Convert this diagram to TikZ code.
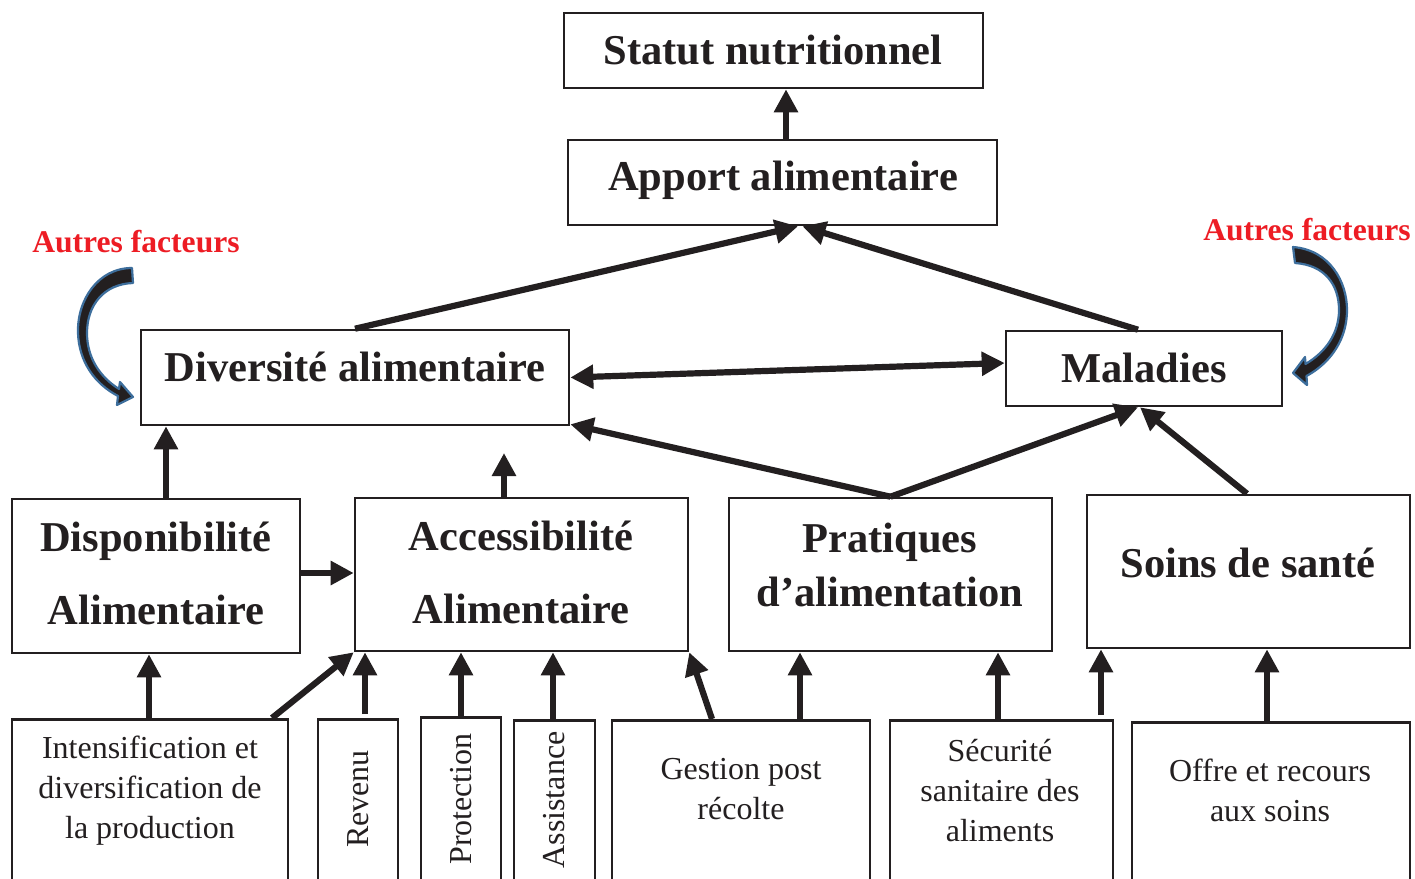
\documentclass[tikz,border=0pt]{standalone}
\usepackage{fontspec}
\setmainfont{Liberation Serif}
\usetikzlibrary{arrows.meta}
\definecolor{ink}{HTML}{231F20}
\definecolor{steel}{HTML}{3D6E9C}
\definecolor{redf}{HTML}{ED1C24}
\begin{document}
\begin{tikzpicture}[x=1pt,y=-1pt,
  box/.style={draw=ink, line width=2.6pt, rectangle, inner sep=0pt},
  big/.style={font=\fontsize{42.5}{50}\selectfont\bfseries, text=ink, align=center, inner sep=0pt},
  small/.style={font=\fontsize{32}{40}\selectfont, text=ink, align=center, inner sep=0pt},
  autres/.style={font=\fontsize{31.6}{36}\selectfont\bfseries, text=redf, inner sep=0pt},
  arr/.style={-{Triangle[length=23pt,width=23pt]}, line width=6.2pt, draw=ink},
  arrb/.style={{Triangle[length=23pt,width=23pt]}-{Triangle[length=23pt,width=23pt]}, line width=6.2pt, draw=ink},
  curvarr/.style={fill=ink, draw=steel, line width=2.2pt, line join=round}
]
\useasboundingbox (0,0) rectangle (1415,878);
\fill[white] (0,0) rectangle (1415,878);
\clip (0,0) rectangle (1415,878);

% main boxes
\node[box, minimum width=419pt, minimum height=75pt] (statut) at (773.5,50.5) {};
\node[big] (statutt) at (773,50) {Statut nutritionnel};
\node[box, minimum width=429pt, minimum height=85pt] (apport) at (782.5,182.5) {};
\node[big] (apportt) at (783,180.5) {Apport alimentaire};
\node[box, minimum width=428pt, minimum height=95pt] (div) at (355,377.5) {};
\node[big] (divt) at (355,367) {Diversité alimentaire};
\node[box, minimum width=276pt, minimum height=75pt] (mal) at (1144,368.5) {};
\node[big] (malt) at (1144,368) {Maladies};
\node[box, minimum width=288pt, minimum height=154pt] (disp) at (156,576) {};
\node[big, font=\fontsize{42.5}{73}\selectfont\bfseries] (dispt) at (156,573) {Disponibilité\\Alimentaire};
\node[box, minimum width=333pt, minimum height=153pt] (acc) at (521.5,574.5) {};
\node[big, font=\fontsize{42.5}{73}\selectfont\bfseries] (acct) at (521,572.5) {Accessibilité\\Alimentaire};
\node[box, minimum width=323pt, minimum height=153pt] (prat) at (890.5,574.5) {};
\node[big, font=\fontsize{42.5}{54}\selectfont\bfseries] (pratt) at (890,565) {Pratiques\\d’alimentation};
\node[box, minimum width=323pt, minimum height=153pt] (soins) at (1248.5,571.5) {};
\node[big] (soinst) at (1248,563) {Soins de santé};

% bottom boxes (cut by the lower edge)
\node[box, anchor=north, minimum width=276pt, minimum height=200pt] (intens) at (150,718) {};
\node[small] (intenst) at (150,790.5) {Intensification et\\diversification de\\la production};
\node[box, anchor=north, minimum width=80pt, minimum height=200pt] (revenu) at (358,718) {};
\node[small, rotate=90] (revenut) at (358,799) {Revenu};
\node[box, anchor=north, minimum width=80pt, minimum height=200pt] (protec) at (461,716) {};
\node[small, rotate=90] (protect) at (461,799) {Protection};
\node[box, anchor=north, minimum width=81pt, minimum height=200pt] (assist) at (554.5,719) {};
\node[small, rotate=90] (assistt) at (554,800) {Assistance};
\node[box, anchor=north, minimum width=258pt, minimum height=200pt] (gest) at (741,719) {};
\node[small] (gestt) at (741,789) {Gestion post\\récolte};
\node[box, anchor=north, minimum width=223pt, minimum height=200pt] (secu) at (1001.5,719) {};
\node[small] (secut) at (1000,790.5) {Sécurité\\sanitaire des\\aliments};
\node[box, anchor=north, minimum width=278pt, minimum height=200pt] (offre) at (1271,721) {};
\node[small] (offret) at (1270,790) {Offre et recours\\aux soins};

% red labels
\node[autres] (af1) at (136,242) {Autres facteurs};
\node[autres] (af2) at (1307,230) {Autres facteurs};

% curved block arrows
\path[curvarr] (132,268) .. controls (98,268) and (77,300) .. (78,333)
  .. controls (79,362) and (95,384) .. (118,396) -- (117,405) -- (133,397) -- (120,382) -- (119,389)
  .. controls (100,377) and (87,358) .. (87,333)
  .. controls (87,305) and (104,284) .. (133,283) -- cycle;
\path[curvarr] (1293,247) .. controls (1330,250) and (1347,282) .. (1347,310)
  .. controls (1347,338) and (1332,362) .. (1306.5,376) -- (1307,385) -- (1293,373) -- (1305,357) -- (1305.5,364)
  .. controls (1326,352) and (1339,333) .. (1339,310)
  .. controls (1339,285) and (1325,265) .. (1295,263) -- cycle;

% connectors
\coordinate (accup) at (504,453);
\draw[arr] ([xshift=3.5pt]apport.north) -- ([xshift=12.5pt]statut.south);
\draw[arr] (div.north) -- ([xshift=15.5pt]apport.south);
\draw[arr] ([xshift=-6pt]mal.north) -- ([xshift=20pt]apport.south);
\draw[arrb] (div.east) -- ([yshift=5.5pt]mal.west);
\draw[arr] (prat.north) -- ([yshift=2pt]div.south east);
\draw[arr] (prat.north) -- ([xshift=-6pt]mal.south);
\draw[arr] ([xshift=-1.5pt]soins.north) -- ([xshift=-4pt]mal.south);
\draw[arr] ([xshift=10pt]disp.north) -- ([xshift=-189pt]div.south);
\draw[arr] ([xshift=-17.5pt]acc.north) -- (accup);
\draw[arr] ([yshift=3pt]disp.east) -- ([yshift=1.5pt]acc.west);
\draw[arr] ([xshift=-1pt]intens.north) -- ([xshift=-7pt]disp.south);
\draw[arr] ([xshift=122pt]intens.north) -- (acc.south west);
\draw[arr, shorten <=4pt] ([xshift=7pt]revenu.north) -- ([xshift=-156.5pt]acc.south);
\draw[arr] (protec.north) -- ([xshift=-60.5pt]acc.south);
\draw[arr] ([xshift=-1.5pt]assist.north) -- ([xshift=31.5pt]acc.south);
\draw[arr] ([xshift=-29pt]gest.north) -- (acc.south east);
\draw[arr] ([xshift=59pt]gest.north) -- ([xshift=-90.5pt]prat.south);
\draw[arr] ([xshift=-3.5pt]secu.north) -- ([xshift=107.5pt]prat.south);
\draw[arr, shorten <=4pt] ([xshift=99.5pt]secu.north) -- ([xshift=-147.5pt]soins.south);
\draw[arr] ([xshift=-4pt]offre.north) -- ([xshift=18.5pt]soins.south);
\end{tikzpicture}
\end{document}
